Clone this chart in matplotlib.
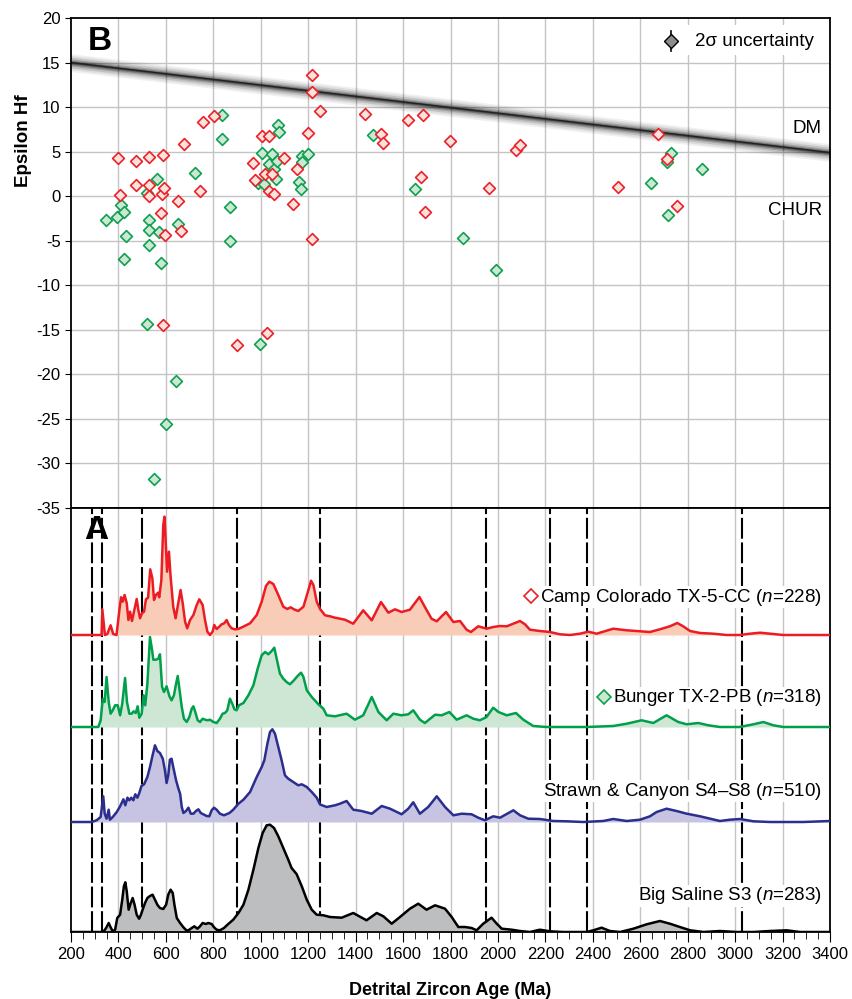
import numpy as np
import matplotlib
matplotlib.use('Agg')
import matplotlib.pyplot as plt
from matplotlib.patches import Rectangle

plt.rcParams['font.family'] = ['Liberation Sans', 'DejaVu Sans']
plt.rcParams['axes.unicode_minus'] = False
plt.rcParams['mathtext.fontset'] = 'custom'
plt.rcParams['mathtext.rm'] = 'Liberation Sans'
plt.rcParams['mathtext.it'] = 'Liberation Sans:italic'

# ---------------- panel B : Hf isotopes ----------------
red_age = [398, 406, 472, 472, 529, 530, 530, 582, 586, 593, 581, 595, 589, 651, 662, 675, 745, 755,
           803, 899, 969, 977, 1007, 1019, 1026, 1033, 1033, 1047, 1055, 1098, 1135, 1151, 1200, 1215,
           1215, 1217, 1248, 1439, 1506, 1514, 1621, 1674, 1684, 1692, 1798, 1962, 2076, 2093, 2505,
           2676, 2711, 2757]
red_eps = [4.3, 0.1, 3.9, 1.2, 4.4, 1.2, 0.0, 0.2, 4.6, 0.9, -1.9, -4.4, -14.5, -0.5, -3.9, 5.9, 0.6, 8.3,
           9.0, -16.7, 3.7, 1.8, 6.8, 2.5, -15.4, 6.7, 0.6, 2.5, 0.3, 4.3, -0.9, 3.0, 7.1, 13.6,
           11.7, -4.8, 9.6, 9.2, 7.0, 6.0, 8.5, 2.1, 9.1, -1.8, 6.2, 0.9, 5.2, 5.7, 1.0,
           7.0, 4.2, -1.1]

green_age = [349, 393, 409, 423, 423, 432, 522, 522, 530, 530, 530, 551, 561, 571, 578, 602, 641, 652,
             724, 835, 838, 869, 869, 987, 995, 1007, 1012, 1033, 1047, 1057, 1064, 1070, 1074, 1078,
             1162, 1168, 1175, 1175, 1198, 1472, 1652, 1851, 1990, 2644, 2713, 2718, 2728, 2860]
green_eps = [-2.7, -2.3, -1.0, -1.8, -7.1, -4.5, 0.4, -14.3, -2.7, -3.8, -5.5, -31.8, 1.9, -4.0, -7.5, -25.6, -20.8, -3.1,
             2.6, 9.1, 6.4, -1.2, -5.0, 1.5, -16.6, 4.8, 1.4, 3.6, 4.7, 3.0, 1.9, 3.9, 8.0, 7.2,
             1.6, 0.8, 4.5, 3.8, 4.7, 6.9, 0.8, -4.7, -8.3, 1.5, 3.8, -2.1, 4.9, 3.0]

dm_age = [200, 3400]
dm_eps = [15.0, 4.9]

# ---------------- panel A : probability density curves ----------------
cc_age = [200, 329, 332, 343, 353, 367, 378, 392, 404, 411, 418, 426, 435, 442, 449, 457, 467, 477, 484,
          491, 499, 508, 516, 525, 534, 543, 550, 558, 567, 572, 581, 589, 594, 599, 605, 613, 620, 631,
          641, 652, 662, 671, 681, 690, 702, 716, 730, 741, 755, 765, 775, 786, 797, 804, 814, 825, 835,
          846, 856, 866, 877, 891, 905, 926, 955, 983, 1004, 1022, 1036, 1053, 1074, 1095, 1112, 1126,
          1140, 1158, 1180, 1201, 1212, 1222, 1236, 1250, 1271, 1292, 1313, 1355, 1390, 1432, 1468, 1507,
          1538, 1566, 1594, 1629, 1669, 1692, 1720, 1742, 1781, 1812, 1840, 1868, 1886, 1917, 1952, 1980,
          2009, 2037, 2065, 2093, 2114, 2135, 2177, 2219, 2261, 2304, 2346, 2381, 2416, 2444, 2486, 2543,
          2599, 2641, 2683, 2725, 2756, 2781, 2810, 2852, 2908, 2964, 3020, 3063, 3105, 3147, 3203, 3400]
cc_h = [0, 0, 25.7, 0, 1, 9.7, 1, 0, 25, 37.7, 33.3, 40, 31.7, 15, 23.3, 14, 25, 36, 25,
        16.7, 21.7, 23.3, 35.7, 37.3, 65.7, 56.7, 35, 40, 42.3, 37.7, 55, 110, 118.3, 95, 63.3, 83.3, 58.3, 28.3,
        16.7, 31.7, 45, 31.7, 13.3, 6.7, 15, 20, 30, 35.7, 30, 15, 3.3, 0, 3.3, 10, 6, 8.3, 10.7,
        11.7, 15, 10, 6.7, 5.7, 6, 8.3, 11.7, 20, 33.3, 49, 53.3, 51, 40, 28.3, 26, 27.7,
        25.7, 24, 28.3, 45, 54.3, 50, 33.3, 26, 19.7, 18.7, 17.3, 15.3, 11.3, 24.7, 14.7, 33,
        22.3, 25.7, 23, 25.3, 38, 28, 16.3, 13.7, 23, 13, 14, 5.3, 3, 8.7, 6.3, 8,
        9, 8.7, 11.3, 14, 10.7, 5.3, 4, 3, 0.7, 0, 1.3, 3.3, 1.3, 3.3, 6.3, 4.7,
        3.7, 3, 5.7, 8.7, 12, 8.7, 4, 2, 1.3, 0, 0, 1.3, 2.3, 1.3, 0, 0]

bg_age = [200, 315, 325, 334, 342, 350, 359, 367, 376, 386, 397, 407, 416, 428, 436, 446, 456, 464, 473,
          481, 488, 498, 506, 513, 522, 533, 542, 547, 558, 568, 575, 584, 592, 603, 615, 624, 634, 643,
          650, 657, 667, 676, 688, 699, 709, 716, 724, 734, 744, 755, 765, 776, 786, 800, 814, 828, 839,
          849, 859, 870, 880, 889, 898, 908, 927, 948, 969, 987, 1004, 1018, 1032, 1046, 1057, 1067, 1081,
          1095, 1109, 1123, 1140, 1154, 1170, 1180, 1194, 1215, 1243, 1264, 1278, 1313, 1362, 1397, 1432,
          1468, 1496, 1531, 1559, 1594, 1622, 1643, 1671, 1692, 1735, 1763, 1795, 1826, 1868, 1896, 1924,
          1952, 1980, 2002, 2037, 2076, 2107, 2149, 2205, 2374, 2486, 2543, 2606, 2655, 2711, 2760, 2796,
          2845, 2887, 2936, 3020, 3077, 3119, 3161, 3203, 3400]
bg_h = [0, 0, 6.7, 28.3, 25, 50, 25, 13.3, 16.7, 21.7, 21.7, 11.7, 23.3, 49, 25, 13.3, 13.3, 15.7, 14,
        20.7, 9.3, 13.3, 31.7, 21.7, 43.3, 90, 76.7, 67.3, 67.3, 68.3, 72.7, 40, 35, 40.7, 30.7, 26.7, 31.7, 43.3,
        51, 38.3, 20, 8.3, 5, 10, 18.3, 20.7, 15, 6.7, 5, 8.3, 7.3, 6.7, 7.3, 5, 4, 8.3, 13.3,
        14, 16.7, 28.3, 23.3, 17.7, 16.7, 21.7, 24, 31.7, 41.7, 58.3, 71.7, 75, 72.7, 76, 79.3, 68.3, 53.3,
        48.3, 45, 42.7, 46.7, 50.7, 54.3, 50, 36.7, 30, 22.7, 18.3, 11.7, 10.7, 13.3, 7.3, 11.7,
        30, 15, 6.7, 13.3, 11.7, 12.7, 16.7, 7.3, 4, 12.3, 11.7, 15, 7.3, 11.7, 8.3, 6.7,
        10, 19.3, 15, 11.7, 14, 7.3, 1, 0, 0, 1, 3.3, 6.7, 4, 11.7, 5, 2.7,
        4, 1.7, 0, 0, 2.7, 5, 1.7, 0, 0]

sc_age = [200, 287, 308, 325, 332, 336, 342, 350, 359, 364, 376, 393, 407, 421, 429, 438, 446, 454, 463,
          471, 480, 488, 497, 508, 522, 533, 544, 554, 564, 575, 587, 596, 603, 610, 617, 624, 631, 643,
          653, 660, 667, 674, 685, 695, 705, 716, 727, 737, 747, 758, 772, 783, 793, 803, 814, 828, 845,
          868, 884, 906, 927, 955, 983, 1004, 1015, 1028, 1039, 1049, 1060, 1074, 1088, 1102, 1116, 1137,
          1158, 1173, 1194, 1215, 1236, 1250, 1278, 1313, 1334, 1362, 1390, 1425, 1468, 1510, 1545, 1594,
          1622, 1643, 1671, 1706, 1742, 1777, 1812, 1847, 1889, 1917, 1945, 1980, 2009, 2065, 2093, 2128,
          2177, 2233, 2290, 2360, 2416, 2444, 2486, 2543, 2599, 2641, 2669, 2711, 2753, 2796, 2852, 2894,
          2936, 2978, 3020, 3077, 3147, 3287, 3400]
sc_h = [0, 0, 1.7, 5, 18.3, 25.7, 8.3, 3.3, 12.3, 2.3, 5, 10, 15.7, 22.7, 16.7, 24.3, 21.7, 24.3, 21.7,
        27.7, 24.3, 29, 36, 37.7, 45, 55, 66.7, 76.7, 71, 69, 63.3, 51.7, 39, 46.7, 62.3, 63.3, 55, 41.7,
        33.3, 28.3, 15, 9, 11, 14.3, 8.3, 8.3, 11, 12.7, 9, 7.7, 6, 5.7, 11.7, 14.3, 12.3, 8.3, 6.7,
        9, 12.3, 18.3, 22.3, 30, 45, 55, 61.7, 78.3, 90, 92.7, 88.3, 75, 61.7, 46.7, 43.3, 40,
        36.7, 37.7, 35, 30, 24.3, 17.5, 15, 16.7, 18.3, 21, 12.3, 11, 8.3, 16, 13.3, 7.7,
        13.3, 19.7, 8.3, 15, 25.7, 15, 6.7, 8.3, 7.7, 4.3, 1.7, 5.7, 4.3, 11.7, 6.7, 3.3,
        3, 1, 0.7, 0, 0.7, 1, 3, 1, 2.3, 5.7, 10, 13.3, 11, 8.3, 5.7, 3.3,
        1, 2.3, 3, 0.7, 0, 0, 1]

bs_age = [200, 336, 348, 359, 367, 376, 386, 395, 407, 416, 423, 429, 435, 443, 452, 460, 468, 477, 487,
          494, 502, 512, 522, 533, 544, 554, 564, 575, 589, 601, 610, 620, 629, 636, 646, 660, 674, 688,
          699, 709, 720, 733, 744, 755, 768, 779, 793, 803, 814, 828, 845, 863, 884, 906, 927, 948, 969,
          990, 1008, 1025, 1039, 1056, 1074, 1095, 1116, 1130, 1151, 1173, 1194, 1215, 1236, 1264, 1292,
          1341, 1390, 1446, 1489, 1517, 1552, 1587, 1629, 1664, 1699, 1735, 1777, 1805, 1833, 1861, 1889,
          1910, 1938, 1973, 1995, 2016, 2058, 2093, 2135, 2177, 2219, 2276, 2374, 2402, 2437, 2472, 2515,
          2571, 2627, 2683, 2725, 2767, 2810, 2866, 2936, 3006, 3077, 3147, 3217, 3273, 3400]
bs_h = [0, 0, 4, 9, 4.7, 0.7, 2.3, 14, 17.3, 32.3, 45.7, 49.7, 40.7, 22.3, 29, 34, 27.3, 17.3, 13.3,
        16.7, 22.3, 29, 34, 36, 37.3, 32.3, 27.3, 24, 23, 27.3, 37.3, 42.3, 39, 27.3, 14, 9, 4.7, 1.3,
        2.3, 4, 5.7, 3.3, 5.7, 9, 8, 9, 8, 4.7, 2.3, 1.7, 4, 8, 12.3, 19, 27.3, 42.3, 62.3,
        84, 99, 106.7, 107.3, 104, 95.7, 84, 72.3, 64, 58, 45.7, 32.3, 22.3, 17.3, 16.7, 15,
        14.3, 19, 11.7, 19, 15.7, 8.3, 15, 23.3, 28.3, 22.3, 26.7, 23.3, 15, 5, 5, 4,
        1.7, 8.3, 14.3, 8.3, 3.3, 2.3, 1, 0, 2.3, 0.7, 0, 0, 1.7, 4.3, 1, 0,
        3.3, 7.7, 11, 8.3, 5, 1.7, 0, 1, 0, 0, 1, 1.7, 0, 0]

samples = ['Camp Colorado TX-5-CC', 'Bunger TX-2-PB', 'Strawn & Canyon S4\u2013S8', 'Big Saline S3']
sample_n = [228, 318, 510, 283]
offsets = [297, 205, 110, 0]
line_cols = ['#ec1c24', '#00a04b', '#2b2e8c', '#000000']
fill_cols = ['#f9ccb8', '#cde7d4', '#c6c4e2', '#bdbec0']
label_y = [335, 234, 141, 36]

dash_ages = [290, 330, 500, 900, 1250, 1950, 2220, 2375, 3030]

fig = plt.figure(figsize=(8.52, 9.99), dpi=100)
axB = fig.add_axes([71 / 852, 1 - 508 / 999, 759 / 852, 490 / 999])
axA = fig.add_axes([71 / 852, 1 - 932 / 999, 759 / 852, 424 / 999])

grid_col = '#c4c4c4'

# ---- panel B
axB.set_xlim(200, 3400)
axB.set_ylim(-35, 20)
for xv in range(400, 3400, 200):
    axB.axvline(xv, color=grid_col, lw=1, zorder=0)
for yv in range(-30, 20, 5):
    axB.axhline(yv, color=grid_col, lw=1, zorder=0)

dm_age_a = np.array(dm_age)
dm_eps_a = np.array(dm_eps)
for w, a in [(1.0, 0.06), (0.8, 0.08), (0.6, 0.12), (0.4, 0.18), (0.25, 0.25), (0.12, 0.35)]:
    axB.fill_between(dm_age_a, dm_eps_a - w, dm_eps_a + w, color='k', alpha=a, lw=0, zorder=1)
axB.plot(dm_age, dm_eps, color='#222222', lw=1, zorder=2)

axB.scatter(green_age, green_eps, marker='D', s=36, facecolor='#cce8d4', edgecolor='#0ea04e',
            linewidth=1.2, zorder=3)
axB.scatter(red_age, red_eps, marker='D', s=36, facecolor='#fde2dc', edgecolor='#ec2028',
            linewidth=1.2, zorder=4)

axB.set_yticks(range(-35, 21, 5))
axB.set_xticks([])
axB.tick_params(axis='y', labelsize=12, length=4, direction='out')
for s in axB.spines.values():
    s.set_linewidth(1.3)
axB.set_ylabel('Epsilon Hf', fontsize=13.5, fontweight='bold')
axB.yaxis.set_label_coords(-0.052, 0.75)

axB.text(3366, 7.6, 'DM', fontsize=13.5, ha='right', va='center', zorder=5,
         bbox=dict(facecolor='white', edgecolor='none', pad=1))
axB.text(3366, -1.6, 'CHUR', fontsize=13.5, ha='right', va='center', zorder=5,
         bbox=dict(facecolor='white', edgecolor='none', pad=1))
axB.text(0.022, 0.952, 'B', transform=axB.transAxes, fontsize=24, fontweight='bold',
         ha='left', va='center')

# 2-sigma key (top right)
axB.add_patch(Rectangle((0.765, 0.925), 0.215, 0.06, transform=axB.transAxes,
                        facecolor='white', edgecolor='none', zorder=5))
axB.plot([0.7905, 0.7905], [0.932, 0.974], transform=axB.transAxes, color='k', lw=1.2, zorder=6)
axB.plot([0.7905], [0.953], transform=axB.transAxes, marker='D', ms=7, mfc='#8c8c8c', mec='k',
         mew=1, zorder=7)
axB.text(0.822, 0.953, '2\u03c3 uncertainty', transform=axB.transAxes, fontsize=13.5,
         ha='left', va='center', zorder=7)

# ---- panel A
axA.set_xlim(200, 3400)
axA.set_ylim(0, 424)
for xv in range(400, 3400, 200):
    axA.axvline(xv, color=grid_col, lw=1, zorder=0)
for xv in dash_ages:
    axA.axvline(xv, color='k', lw=1.5, dashes=(10, 1.8), zorder=1)

curves = [(cc_age, cc_h), (bg_age, bg_h), (sc_age, sc_h), (bs_age, bs_h)]
for (ages, hs), off, lc, fc in zip(curves, offsets, line_cols, fill_cols):
    ages = np.array(ages)
    hs = np.array(hs) + off
    axA.fill_between(ages, off, hs, color=fc, lw=0, zorder=2)
    axA.plot(ages, hs, color=lc, lw=1.8, zorder=3, solid_joinstyle='round')

fig.canvas.draw()
renderer = fig.canvas.get_renderer()
mk = [('#ec2028', 'white'), ('#0ea04e', '#cce8d4'), None, None]
for name, n, ly, m in zip(samples, sample_n, label_y, mk):
    t = axA.text(3366, ly, name + ' ($\\it{n}$=%d)' % n, fontsize=13.5, ha='right', va='center',
                 zorder=5, bbox=dict(facecolor='white', edgecolor='none', pad=0.5))
    if m is not None:
        bb = t.get_window_extent(renderer=renderer)
        xd, _ = axA.transData.inverted().transform((bb.x0 - 9, 0))
        axA.plot([xd], [ly + 1], marker='D', ms=7, mec=m[0], mfc=m[1], mew=1.2, zorder=6)

axA.text(0.017, 0.946, 'A', transform=axA.transAxes, fontsize=24, fontweight='bold',
         ha='left', va='center')

axA.set_xticks(range(200, 3401, 200))
axA.set_xticks(range(200, 3401, 50), minor=True)
axA.set_yticks([])
axA.tick_params(axis='x', which='major', labelsize=12, length=7, direction='out', pad=4)
axA.tick_params(axis='x', which='minor', length=5, direction='out')
for s in axA.spines.values():
    s.set_linewidth(1.3)
axA.set_xlabel('Detrital Zircon Age (Ma)', fontsize=13, fontweight='bold', labelpad=14)

fig.savefig('out.png', dpi=100)
